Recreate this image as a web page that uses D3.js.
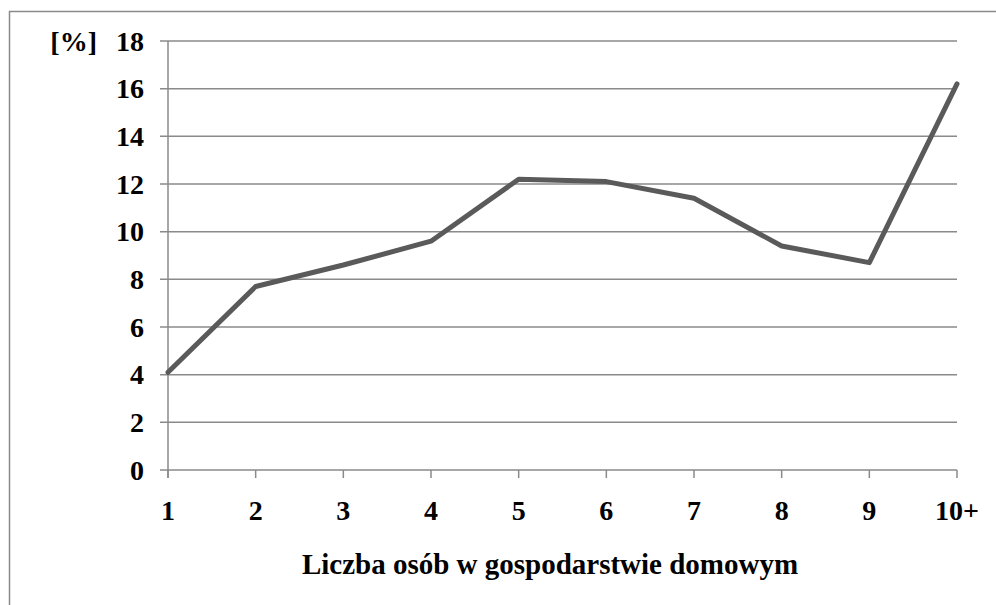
<!DOCTYPE html>
<html lang="pl">
<head>
  <meta charset="utf-8" />
  <title>Liczba osób w gospodarstwie domowym</title>
  <style>
    body { margin: 0; background: #fff; }
    svg text { font-family: "Liberation Serif", "Times New Roman", serif; font-weight: bold; fill: #000; }
    .grid line { stroke: #8a8a8a; stroke-width: 1.5px; }
    .axis path, .axis line { stroke: #8a8a8a; stroke-width: 1.5px; }
  </style>
</head>
<body>
<script src="https://cdn.jsdelivr.net/npm/d3@7"></script>
<script>
  const categories = ["1", "2", "3", "4", "5", "6", "7", "8", "9", "10+"];
  const values = [4.1, 7.7, 8.6, 9.6, 12.2, 12.1, 11.4, 9.4, 8.7, 16.2];
  const yTicks = [0, 2, 4, 6, 8, 10, 12, 14, 16, 18];

  const width = 996, height = 605;
  const plotLeft = 168, plotRight = 957, plotTop = 41, plotBottom = 470;

  const svg = d3.select("body").append("svg")
    .attr("width", width)
    .attr("height", height);

  // outer frame (right and bottom edges fall outside the picture)
  svg.append("rect")
    .attr("x", 9.5).attr("y", 11.5)
    .attr("width", 1000).attr("height", 610)
    .attr("fill", "none")
    .attr("stroke", "#8a8a8a")
    .attr("stroke-width", 1.5);

  const x = d3.scalePoint().domain(categories).range([plotLeft, plotRight]);
  const y = d3.scaleLinear().domain([0, 18]).range([plotBottom, plotTop]);

  // horizontal gridlines, with a short tick to the left of the axis
  svg.append("g").attr("class", "grid")
    .selectAll("line").data(yTicks).join("line")
    .attr("x1", plotLeft - 8).attr("x2", plotRight)
    .attr("y1", d => y(d)).attr("y2", d => y(d));

  // y axis line
  svg.append("line")
    .attr("x1", plotLeft).attr("x2", plotLeft)
    .attr("y1", plotTop).attr("y2", plotBottom + 8)
    .attr("stroke", "#8a8a8a").attr("stroke-width", 1.5);

  // x axis ticks
  svg.append("g").attr("class", "axis")
    .selectAll("line").data(categories).join("line")
    .attr("x1", d => x(d)).attr("x2", d => x(d))
    .attr("y1", plotBottom).attr("y2", plotBottom + 8);

  // y tick labels
  svg.append("g")
    .selectAll("text").data(yTicks).join("text")
    .attr("x", 144)
    .attr("y", d => y(d) + 9.5)
    .attr("text-anchor", "end")
    .style("font-size", "28px")
    .text(d => d);

  // x tick labels
  svg.append("g")
    .selectAll("text").data(categories).join("text")
    .attr("x", d => x(d))
    .attr("y", 520)
    .attr("text-anchor", "middle")
    .style("font-size", "28px")
    .text(d => d);

  // unit label
  svg.append("text")
    .attr("x", 97).attr("y", 51)
    .attr("text-anchor", "end")
    .style("font-size", "28px")
    .text("[%]");

  // axis title
  svg.append("text")
    .attr("x", 550).attr("y", 574)
    .attr("text-anchor", "middle")
    .style("font-size", "29px")
    .text("Liczba osób w gospodarstwie domowym");

  // data line
  const line = d3.line()
    .x((d, i) => x(categories[i]))
    .y(d => y(d));

  svg.append("path")
    .datum(values)
    .attr("fill", "none")
    .attr("stroke", "#5a5a5a")
    .attr("stroke-width", 5)
    .attr("stroke-linejoin", "round")
    .attr("stroke-linecap", "round")
    .attr("d", line);
</script>
</body>
</html>
